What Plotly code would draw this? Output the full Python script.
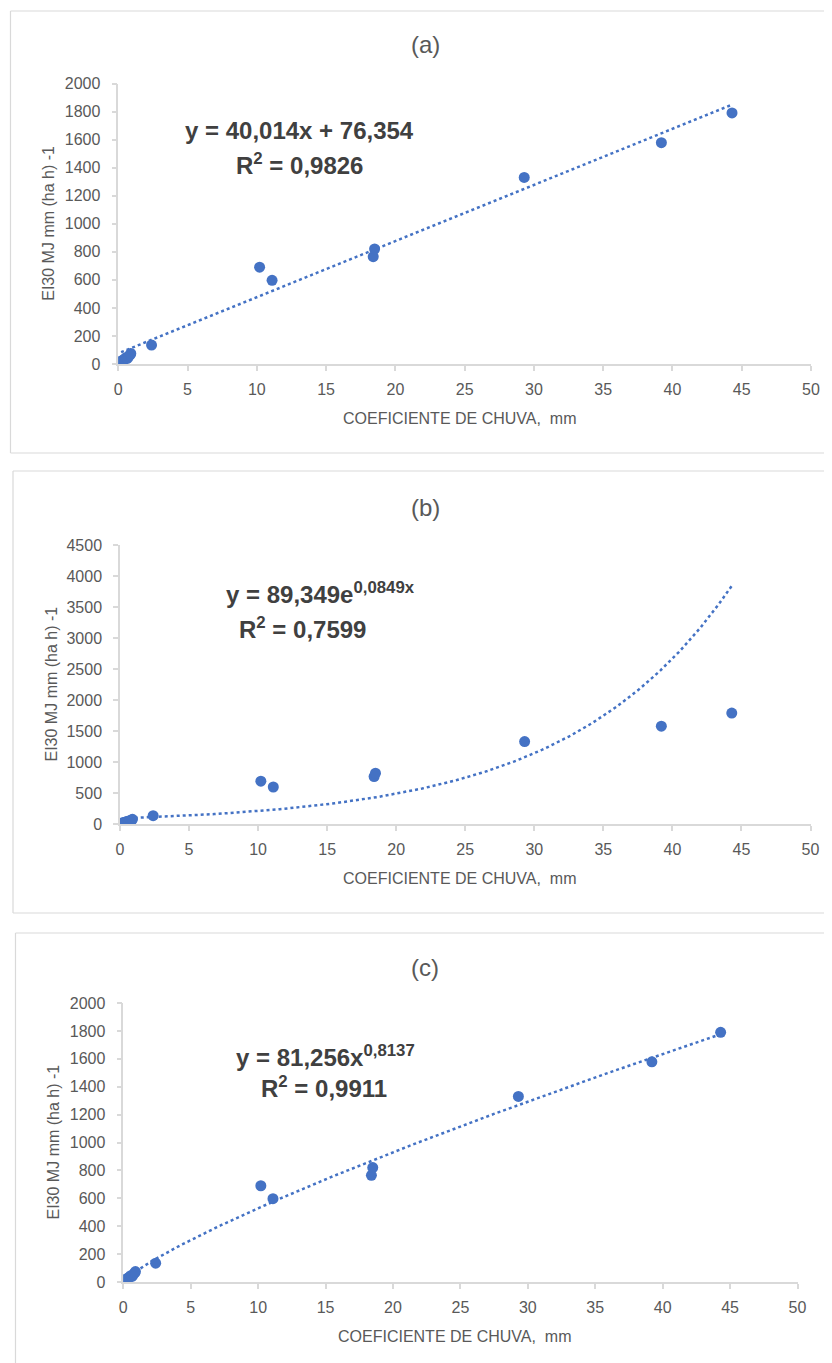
import numpy as np
import plotly.graph_objects as go

# ---- data ----
coef_chuva = [0.2, 0.3, 0.45, 0.55, 0.65, 0.75, 0.85, 0.9, 2.4, 10.2, 11.1, 18.4, 18.5, 29.3, 39.2, 44.3]
ei30 = [20, 25, 35, 45, 40, 55, 65, 75, 135, 690, 597, 765, 820, 1330, 1578, 1790]

panel_titles = ["(a)", "(b)", "(c)"]
eq_texts = ["y = 40,014x + 76,354", "y = 89,349e<sup>0,0849x</sup>", "y = 81,256x<sup>0,8137</sup>"]
r2_texts = ["R<sup>2</sup> = 0,9826", "R<sup>2</sup> = 0,7599", "R<sup>2</sup> = 0,9911"]

lin_a, lin_b = 40.014, 76.354
exp_a, exp_b = 89.349, 0.0849
pow_a, pow_b = 81.256, 0.8137

x_ticks = [0, 5, 10, 15, 20, 25, 30, 35, 40, 45, 50]
y_max = [2000, 4500, 2000]
y_dtick = [200, 500, 200]

x_title = "COEFICIENTE DE CHUVA,  mm"
y_title = "EI30 MJ mm (ha h) -1"

# ---- layout geometry (window pixels) ----
WIN_W, WIN_H = 832, 1363
OFF = 8  # page body margin
W, H = WIN_W - OFF, WIN_H - OFF
BLUE = "#4472C4"
GRAY = "#595959"
LINE = "#D9D9D9"
FONT = "Liberation Sans, Arial, sans-serif"

# plot area px: (x0, x50, y0pix, ytoppix)
areas = [(118.3, 811.0, 364.0, 83.5),
         (120.0, 810.5, 824.0, 545.0),
         (123.3, 797.5, 1282.0, 1003.0)]
title_y = [45, 507, 968]
xt_y = [418, 879, 1336]
yt_x = [49, 51, 53]
eq_pos = [(299, 131, 299, 164), (320, 593, 302, 628), (325, 1056, 324, 1087)]
boxes = [(10.5, 11, 453), (13, 471, 913), (15.5, 933, 1400)]

def px(x):
    return (x - OFF) / W

def py(y):
    return 1 - (y - OFF) / H

fig = go.Figure()

xs = np.linspace(min(coef_chuva), max(coef_chuva), 300)
fits = [lin_a * xs + lin_b, exp_a * np.exp(exp_b * xs), pow_a * xs ** pow_b]

def ann(text, x, y, size, color=GRAY, angle=0):
    return dict(text=text, x=px(x), y=py(y), xref="paper", yref="paper", xanchor="center",
                yanchor="middle", textangle=angle, showarrow=False,
                font=dict(family=FONT, size=size, color=color))

annotations = []
shapes = []
for i in range(3):
    n = "" if i == 0 else str(i + 1)
    xa, ya = "x" + n, "y" + n
    fig.add_trace(go.Scatter(x=xs, y=fits[i], mode="lines", xaxis=xa, yaxis=ya,
                             line=dict(color=BLUE, width=2.5, dash="dot"),
                             showlegend=False, hoverinfo="skip", cliponaxis=False))
    fig.add_trace(go.Scatter(x=coef_chuva, y=ei30, mode="markers", xaxis=xa, yaxis=ya,
                             marker=dict(color=BLUE, size=11), showlegend=False))
    x0, x1, y0, y1 = areas[i]
    common = dict(showline=True, linecolor=LINE, linewidth=1.5, ticks="outside",
                  tickcolor=LINE, ticklen=5, tickwidth=1.5, showgrid=False, zeroline=False,
                  automargin=False, tickfont=dict(family=FONT, size=16, color=GRAY))
    fig.update_layout(**{
        "xaxis" + n: dict(domain=[px(x0), px(x1)], range=[0, 50], tickvals=x_ticks,
                          anchor=ya, ticklabelstandoff=5, **common),
        "yaxis" + n: dict(domain=[py(y0), py(y1)], range=[0, y_max[i]], dtick=y_dtick[i],
                          anchor=xa, ticklabelstandoff=8, **common),
    })
    annotations.append(ann(panel_titles[i], 425, title_y[i], 24))
    annotations.append(ann(x_title, (x0 + x1) / 2 - 5, xt_y[i], 16))
    annotations.append(ann(y_title, yt_x[i], (y0 + y1) / 2, 16, angle=-90))
    ex, ey1, rx, ey2 = eq_pos[i]
    annotations.append(ann("<b>" + eq_texts[i] + "</b>", ex, ey1, 24, color="#404040"))
    annotations.append(ann("<b>" + r2_texts[i] + "</b>", rx, ey2, 24, color="#404040"))
    bx, by0, by1 = boxes[i]
    shapes.append(dict(type="line", xref="paper", yref="paper", x0=px(bx), x1=1.1, y0=py(by0), y1=py(by0),
                       line=dict(color=LINE, width=1.2)))
    shapes.append(dict(type="line", xref="paper", yref="paper", x0=px(bx), x1=px(bx), y0=py(by0), y1=py(by1),
                       line=dict(color=LINE, width=1.2)))
    if by1 < WIN_H:
        shapes.append(dict(type="line", xref="paper", yref="paper", x0=px(bx), x1=1.1, y0=py(by1), y1=py(by1),
                           line=dict(color=LINE, width=1.2)))

fig.update_layout(width=W, height=H, margin=dict(l=0, r=0, t=0, b=0, autoexpand=False),
                  paper_bgcolor="white", plot_bgcolor="white",
                  annotations=annotations, shapes=shapes, showlegend=False)

fig.write_html("out.html")
